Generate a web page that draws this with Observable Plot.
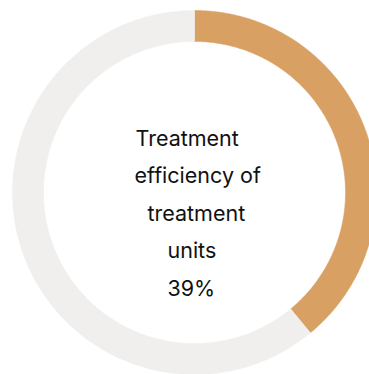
<!DOCTYPE html>
<html>
<head>
<meta charset="utf-8">
<script src="https://cdn.jsdelivr.net/npm/d3@7"></script>
<script src="https://cdn.jsdelivr.net/npm/@observablehq/plot@0.6"></script>
<style>
  html, body { margin: 0; padding: 0; background: #fff; }
  #chart svg { display: block; }
</style>
</head>
<body>
<div id="chart"></div>
<script>
// ---- data ----
const categories = ["Efficiency", "Remainder"];
const values = [39, 61];
const colors = ["#D8A062", "#F0EFED"];
const labelLines = ["Treatment", "efficiency of", "treatment", "units"];
const valueLabel = values[0] + "%";

// ---- layout ----
const W = 369, H = 374;
const CX = 194, CY = 192, R_OUT = 182, R_IN = 151;
const ir = R_IN / R_OUT;

// slices -> polygons in unit space
const total = d3.sum(values);
const polys = [];
let acc = 0;
values.forEach((v, i) => {
  const a0 = acc / total * 2 * Math.PI;
  const a1 = (acc + v) / total * 2 * Math.PI;
  acc += v;
  const n = Math.max(8, Math.ceil((a1 - a0) / 0.01));
  const pts = [];
  for (let k = 0; k <= n; k++) {
    const a = a0 + (a1 - a0) * k / n;
    pts.push({cat: categories[i], x: Math.sin(a), y: Math.cos(a)});
  }
  for (let k = n; k >= 0; k--) {
    const a = a0 + (a1 - a0) * k / n;
    pts.push({cat: categories[i], x: ir * Math.sin(a), y: ir * Math.cos(a)});
  }
  polys.push(...pts);
});

const allLines = [...labelLines, valueLabel];
const lineLeft = [135, 134, 147, 167, 167];
const lineBase = [145, 182.5, 220, 257.5, 295];
const FS = 21.5;

const textMarks = allLines.map((t, i) => Plot.text([t], {
  frameAnchor: "top-left",
  textAnchor: "start",
  lineAnchor: "middle",
  dx: lineLeft[i],
  dy: lineBase[i] - 0.32 * FS,
  fontSize: FS,
  fill: "#111"
}));

const chart = Plot.plot({
  width: W,
  height: H,
  margin: 0,
  style: {fontFamily: "Inter, 'Open Sans', sans-serif", background: "#fff"},
  x: {domain: [-CX / R_OUT, (W - CX) / R_OUT], axis: null},
  y: {domain: [-(H - CY) / R_OUT, CY / R_OUT], axis: null},
  color: {domain: categories, range: colors},
  marks: [
    Plot.line(polys, {x: "x", y: "y", z: "cat", fill: "cat", stroke: "cat", strokeWidth: 0.5, curve: "linear"}),
    ...textMarks
  ]
});
document.getElementById("chart").appendChild(chart);
</script>
</body>
</html>
